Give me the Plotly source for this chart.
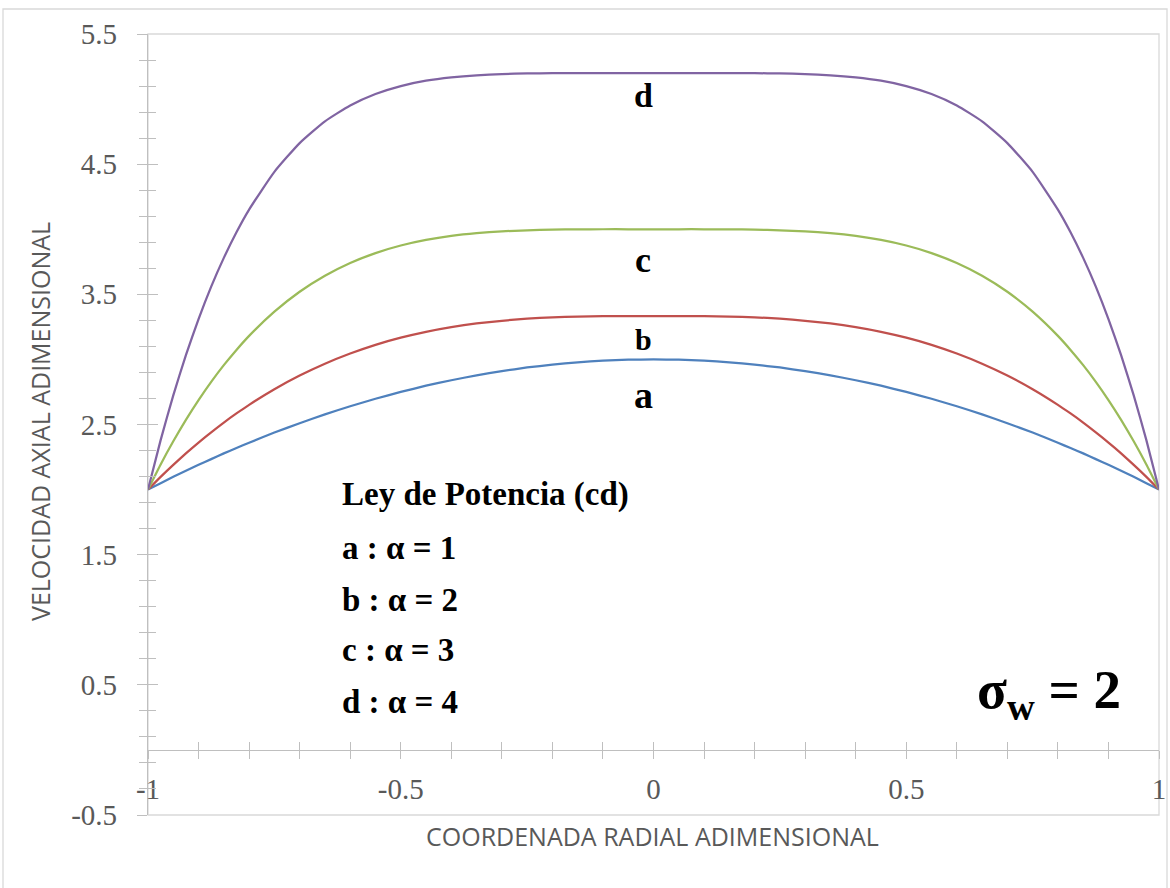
import plotly.graph_objects as go

# Radial coordinate (x) and axial velocity (y)
r = [-1.0, -0.975, -0.95, -0.925, -0.9, -0.875, -0.85, -0.825, -0.8, -0.75, -0.7, -0.65,
     -0.6, -0.55, -0.5, -0.45, -0.4, -0.35, -0.3, -0.25, -0.2, -0.15, -0.1, -0.05,
     0.0, 0.05, 0.1, 0.15, 0.2, 0.25, 0.3, 0.35, 0.4, 0.45, 0.5, 0.55, 0.6,
     0.65, 0.7, 0.75, 0.8, 0.825, 0.85, 0.875, 0.9, 0.925, 0.95, 0.975, 1.0]
vel_a = [2.000, 2.049, 2.098, 2.144, 2.190, 2.234, 2.278, 2.319, 2.360, 2.438, 2.510, 2.578,
         2.640, 2.698, 2.750, 2.798, 2.840, 2.878, 2.910, 2.938, 2.960, 2.978, 2.990, 2.998,
         3.000, 2.998, 2.990, 2.978, 2.960, 2.938, 2.910, 2.878, 2.840, 2.798, 2.750, 2.698, 2.640,
         2.578, 2.510, 2.438, 2.360, 2.319, 2.278, 2.234, 2.190, 2.144, 2.098, 2.049, 2.000]
vel_b = [2.000, 2.098, 2.190, 2.278, 2.361, 2.440, 2.515, 2.585, 2.651, 2.771, 2.876, 2.967,
         3.045, 3.112, 3.167, 3.212, 3.248, 3.276, 3.297, 3.313, 3.323, 3.329, 3.332, 3.333,
         3.333, 3.333, 3.332, 3.329, 3.323, 3.313, 3.297, 3.276, 3.248, 3.212, 3.167, 3.112, 3.045,
         2.967, 2.876, 2.771, 2.651, 2.585, 2.515, 2.440, 2.361, 2.278, 2.190, 2.098, 2.000]
vel_c = [2.000, 2.193, 2.371, 2.536, 2.688, 2.828, 2.956, 3.073, 3.181, 3.367, 3.520, 3.643,
         3.741, 3.817, 3.875, 3.918, 3.949, 3.970, 3.984, 3.992, 3.997, 3.999, 4.000, 4.000,
         4.000, 4.000, 4.000, 3.999, 3.997, 3.992, 3.984, 3.970, 3.949, 3.918, 3.875, 3.817, 3.741,
         3.643, 3.520, 3.367, 3.181, 3.073, 2.956, 2.828, 2.688, 2.536, 2.371, 2.193, 2.000]
vel_d = [2.000, 2.380, 2.724, 3.033, 3.310, 3.559, 3.780, 3.977, 4.151, 4.441, 4.662, 4.829,
         4.951, 5.039, 5.100, 5.141, 5.167, 5.183, 5.192, 5.197, 5.199, 5.200, 5.200, 5.200,
         5.200, 5.200, 5.200, 5.200, 5.199, 5.197, 5.192, 5.183, 5.167, 5.141, 5.100, 5.039, 4.951,
         4.829, 4.662, 4.441, 4.151, 3.977, 3.780, 3.559, 3.310, 3.033, 2.724, 2.380, 2.000]

series_names = ["a", "b", "c", "d"]
series_vals = [vel_a, vel_b, vel_c, vel_d]
series_colors = ["#4F81BD", "#C0504D", "#9BBB59", "#8064A2"]

legend_lines = ["Ley de Potencia (cd)", "a : α = 1", "b : α = 2", "c : α = 3", "d : α = 4"]

x_tickvals = [-1, -0.5, 0, 0.5, 1]
x_ticktext = ["-1", "-0.5", "0", "0.5", "1"]
y_tickvals = [-0.5, 0.5, 1.5, 2.5, 3.5, 4.5, 5.5]
y_ticktext = ["-0.5", "0.5", "1.5", "2.5", "3.5", "4.5", "5.5"]

x_range = [-1, 1]
y_range = [-0.5, 5.5]

fig = go.Figure()
for name, vals, col in zip(series_names, series_vals, series_colors):
    fig.add_trace(go.Scatter(x=r, y=vals, mode="lines", name=name,
                             line=dict(color=col, width=2.25, shape="spline", smoothing=0.5),
                             showlegend=False, hoverinfo="skip"))
# invisible carriers so that the overlay axes (crossing ticks) get drawn
for xa, ya in [("x2", "y"), ("x3", "y2")]:
    fig.add_trace(go.Scatter(x=r, y=vel_a, xaxis=xa, yaxis=ya, mode="lines",
                             line=dict(width=0, color="rgba(0,0,0,0)"), opacity=0,
                             showlegend=False, hoverinfo="skip"))

tick_font = dict(family="Liberation Serif, Times New Roman, serif", size=29, color="#595959")
axis_pos = (0 - y_range[0]) / (y_range[1] - y_range[0])
tc = "#bfbfbf"

fig.update_layout(
    width=1170, height=888,
    margin=dict(l=148, r=11, t=34, b=73, autoexpand=False),
    paper_bgcolor="white", plot_bgcolor="white",
    showlegend=False,
    xaxis=dict(range=x_range, showgrid=False, zeroline=False, showline=False,
               showticklabels=False, ticks="", automargin=False),
    yaxis=dict(range=y_range, showgrid=False, zeroline=False, showline=True,
               linecolor=tc, linewidth=1.3, automargin=False,
               tickmode="array", tickvals=y_tickvals, ticktext=y_ticktext,
               ticks="outside", ticklen=10, tickcolor=tc, tickwidth=1.3,
               minor=dict(tickmode="linear", tick0=-0.5, dtick=0.2, ticks="outside",
                          ticklen=8, tickcolor=tc, tickwidth=1.3),
               tickfont=tick_font, ticklabelstandoff=14),
    yaxis2=dict(range=y_range, overlaying="y", side="left", anchor="x", automargin=False,
                showgrid=False, zeroline=False, showline=False, showticklabels=False,
                tickmode="array", tickvals=y_tickvals,
                ticks="inside", ticklen=10, tickcolor=tc, tickwidth=1.3,
                minor=dict(tickmode="linear", tick0=-0.5, dtick=0.2, ticks="inside",
                           ticklen=8, tickcolor=tc, tickwidth=1.3)),
    xaxis2=dict(range=x_range, overlaying="x", anchor="free", position=axis_pos, side="bottom",
                automargin=False,
                showgrid=False, zeroline=False, showline=True, linecolor=tc, linewidth=1.3,
                tickmode="array", tickvals=x_tickvals, ticktext=x_ticktext,
                ticks="outside", ticklen=8, tickcolor=tc, tickwidth=1.3,
                minor=dict(tickmode="linear", tick0=-1, dtick=0.1, ticks="outside",
                           ticklen=8, tickcolor=tc, tickwidth=1.3),
                tickfont=tick_font, ticklabelstandoff=5),
    xaxis3=dict(range=x_range, overlaying="x", anchor="free", position=axis_pos, side="bottom",
                automargin=False,
                showgrid=False, zeroline=False, showline=False, showticklabels=False,
                tickmode="array", tickvals=x_tickvals,
                ticks="inside", ticklen=8, tickcolor=tc, tickwidth=1.3,
                minor=dict(tickmode="linear", tick0=-1, dtick=0.1, ticks="inside",
                           ticklen=8, tickcolor=tc, tickwidth=1.3)),
)

# plot-area box and outer chart border
fig.add_shape(type="rect", xref="paper", yref="paper", x0=0, x1=1, y0=0, y1=1,
              line=dict(color="#d9d9d9", width=1.3), layer="below")
fig.add_shape(type="rect", xref="paper", yref="paper",
              x0=(3 - 148) / 1011, x1=(1167 - 148) / 1011,
              y0=(815 - 900) / 781, y1=(815 - 9) / 781,
              line=dict(color="#d9d9d9", width=1.3), layer="below")

# axis titles
title_font = dict(family="Open Sans, sans-serif", size=25, color="#595959")
fig.add_annotation(text="VELOCIDAD AXIAL ADIMENSIONAL", xref="paper", yref="paper",
                   x=(40 - 148) / 1011, y=(815 - 422) / 781, textangle=-90,
                   showarrow=False, font=title_font, xanchor="center", yanchor="middle")
fig.add_annotation(text="COORDENADA RADIAL ADIMENSIONAL", xref="paper", yref="paper",
                   x=(652 - 148) / 1011, y=(815 - 836) / 781,
                   showarrow=False, font=title_font, xanchor="center", yanchor="middle")

# curve labels
label_font = "Liberation Serif, Times New Roman, serif"
curve_label_pos = [(-0.02, 2.73, 38), (-0.02, 3.15, 30), (-0.02, 3.76, 36), (-0.02, 5.03, 34)]
for name, (lx, ly, fs) in zip(series_names, curve_label_pos):
    fig.add_annotation(text="<b>%s</b>" % name, x=lx, y=ly, showarrow=False,
                       font=dict(family=label_font, size=fs, color="black"),
                       xanchor="center", yanchor="middle")

# legend text block
legend_y = [1.966, 1.551, 1.152, 0.768, 0.368]
for txt, ly in zip(legend_lines, legend_y):
    fig.add_annotation(text="<b>%s</b>" % txt, x=-0.62, y=ly, showarrow=False,
                       font=dict(family=label_font, size=33, color="black"),
                       xanchor="left", yanchor="middle")

fig.add_annotation(text="<b>σ<sub>w</sub> = 2</b>", x=0.636, y=0.43, showarrow=False,
                   font=dict(family=label_font, size=55, color="black"),
                   xanchor="left", yanchor="middle")

fig.write_html("out.html")
